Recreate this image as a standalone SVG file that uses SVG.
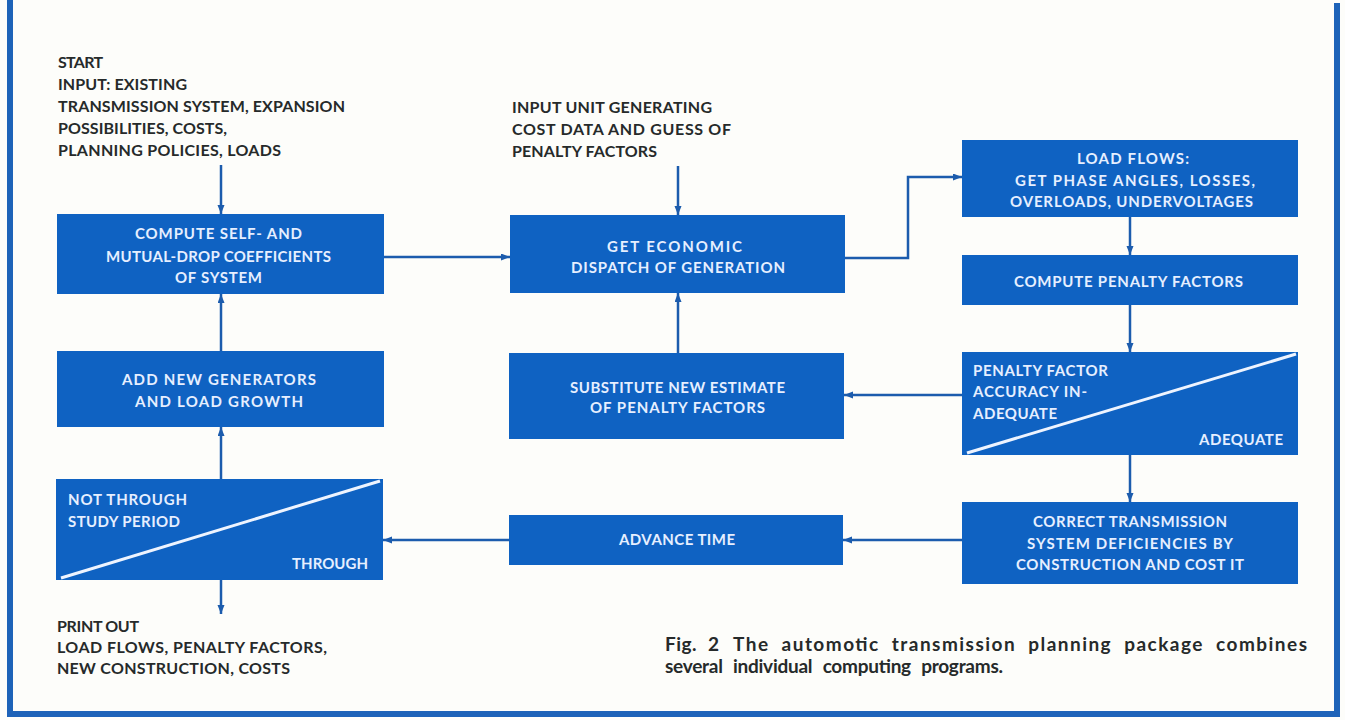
<svg xmlns="http://www.w3.org/2000/svg" width="1345" height="720" viewBox="0 0 1345 720">
<defs>
<style>
.bg{fill:#fdfdfa}
.frame{fill:#1e63b8}
.box{fill:#0f62c2}
.diag{stroke:#eef4ff;stroke-width:3;fill:none}
.bt{font-family:"Lato","Liberation Sans",sans-serif;font-weight:700;font-size:15px;fill:#e6efff}
.ot{font-family:"Lato","Liberation Sans",sans-serif;font-weight:700;font-size:16px;fill:#262a2a}
.cap{font-family:"Lato","Liberation Sans",sans-serif;font-weight:700;font-size:19px;fill:#262a2a;word-spacing:6px}
.conn{stroke:#1c5cad;stroke-width:2.5;fill:none;marker-end:url(#ah)}
</style>
<marker id="ah" markerUnits="userSpaceOnUse" markerWidth="10" markerHeight="8" refX="9" refY="3.5" orient="auto">
<path d="M0,0 L9,3.5 L0,7 z" fill="#1c5cad"/>
</marker>
</defs>
<rect class="bg" x="0" y="0" width="1345" height="720"/>
<g id="frame">
<rect class="frame" x="7" y="0" width="6" height="717"/>
<rect class="frame" x="1334" y="3" width="6" height="714"/>
<rect class="frame" x="7" y="711" width="1333" height="6"/>
</g>

<g id="start-text">
<text class="ot" x="58" y="68" textLength="45">START</text>
<text class="ot" x="58" y="90" textLength="129">INPUT: EXISTING</text>
<text class="ot" x="58" y="112" textLength="287">TRANSMISSION SYSTEM, EXPANSION</text>
<text class="ot" x="58" y="134" textLength="169">POSSIBILITIES, COSTS,</text>
<text class="ot" x="58" y="156" textLength="223">PLANNING POLICIES, LOADS</text>
</g>

<g id="input-text">
<text class="ot" x="512" y="113" textLength="200">INPUT UNIT GENERATING</text>
<text class="ot" x="512" y="135" textLength="219">COST DATA AND GUESS OF</text>
<text class="ot" x="512" y="157" textLength="145">PENALTY FACTORS</text>
</g>

<g id="node-compute-coeff">
<rect class="box" x="57" y="214" width="327" height="80"/>
<text class="bt" x="135" y="239" textLength="167">COMPUTE SELF- AND</text>
<text class="bt" x="106" y="262" textLength="225">MUTUAL-DROP COEFFICIENTS</text>
<text class="bt" x="175" y="283" textLength="87">OF SYSTEM</text>
</g>

<g id="node-dispatch">
<rect class="box" x="510" y="215" width="335" height="78"/>
<text class="bt" x="607" y="252" textLength="135">GET ECONOMIC</text>
<text class="bt" x="571" y="273" textLength="214">DISPATCH OF GENERATION</text>
</g>

<g id="node-load-flows">
<rect class="box" x="962" y="140" width="336" height="77"/>
<text class="bt" x="1077" y="164" textLength="112">LOAD FLOWS:</text>
<text class="bt" x="1015" y="186" textLength="240">GET PHASE ANGLES, LOSSES,</text>
<text class="bt" x="1010" y="207" textLength="243">OVERLOADS, UNDERVOLTAGES</text>
</g>

<g id="node-compute-penalty">
<rect class="box" x="962" y="255" width="336" height="50"/>
<text class="bt" x="1014" y="287" textLength="229">COMPUTE PENALTY FACTORS</text>
</g>

<g id="node-accuracy">
<rect class="box" x="962" y="352" width="336" height="103"/>
<line class="diag" x1="967" y1="453" x2="1296" y2="354"/>
<text class="bt" x="973" y="376" textLength="135">PENALTY FACTOR</text>
<text class="bt" x="973" y="397" textLength="114">ACCURACY IN-</text>
<text class="bt" x="973" y="419" textLength="84">ADEQUATE</text>
<text class="bt" x="1199" y="445" textLength="84">ADEQUATE</text>
</g>

<g id="node-substitute">
<rect class="box" x="509" y="353" width="335" height="86"/>
<text class="bt" x="570" y="393" textLength="215">SUBSTITUTE NEW ESTIMATE</text>
<text class="bt" x="590" y="413" textLength="175">OF PENALTY FACTORS</text>
</g>

<g id="node-add-generators">
<rect class="box" x="57" y="351" width="327" height="76"/>
<text class="bt" x="122" y="385" textLength="194">ADD NEW GENERATORS</text>
<text class="bt" x="135" y="407" textLength="168">AND LOAD GROWTH</text>
</g>

<g id="node-study-period">
<rect class="box" x="56" y="479" width="327" height="101"/>
<line class="diag" x1="61" y1="578" x2="380" y2="481"/>
<text class="bt" x="68" y="505" textLength="119">NOT THROUGH</text>
<text class="bt" x="68" y="527" textLength="112">STUDY PERIOD</text>
<text class="bt" x="292" y="569" textLength="76">THROUGH</text>
</g>

<g id="node-advance-time">
<rect class="box" x="509" y="515" width="334" height="50"/>
<text class="bt" x="619" y="545" textLength="116">ADVANCE TIME</text>
</g>

<g id="node-correct">
<rect class="box" x="962" y="502" width="336" height="82"/>
<text class="bt" x="1033" y="527" textLength="194">CORRECT TRANSMISSION</text>
<text class="bt" x="1027" y="549" textLength="206">SYSTEM DEFICIENCIES BY</text>
<text class="bt" x="1016" y="570" textLength="228">CONSTRUCTION AND COST IT</text>
</g>

<g id="print-text">
<text class="ot" x="57" y="632" textLength="82">PRINT OUT</text>
<text class="ot" x="57" y="653" textLength="270">LOAD FLOWS, PENALTY FACTORS,</text>
<text class="ot" x="57" y="674" textLength="233">NEW CONSTRUCTION, COSTS</text>
</g>

<g id="caption">
<text class="cap" x="665" y="651" textLength="54">Fig. 2</text>
<text class="cap" x="733" y="651" textLength="574">The automotic transmission planning package combines</text>
<text class="cap" x="665" y="673" textLength="338">several individual computing programs.</text>
</g>

<g id="connectors">
<path class="conn" d="M221,165 V214"/>
<path class="conn" d="M678,166 V215"/>
<path class="conn" d="M384,257 H510"/>
<path class="conn" d="M845,258 H908 V177 H962"/>
<path class="conn" d="M1130,217 V255"/>
<path class="conn" d="M1130,305 V352"/>
<path class="conn" d="M962,395 H844"/>
<path class="conn" d="M678,353 V293"/>
<path class="conn" d="M1130,455 V502"/>
<path class="conn" d="M962,540 H843"/>
<path class="conn" d="M509,540 H383"/>
<path class="conn" d="M221,479 V427"/>
<path class="conn" d="M221,351 V294"/>
<path class="conn" d="M221,580 V614"/>
</g>
</svg>
